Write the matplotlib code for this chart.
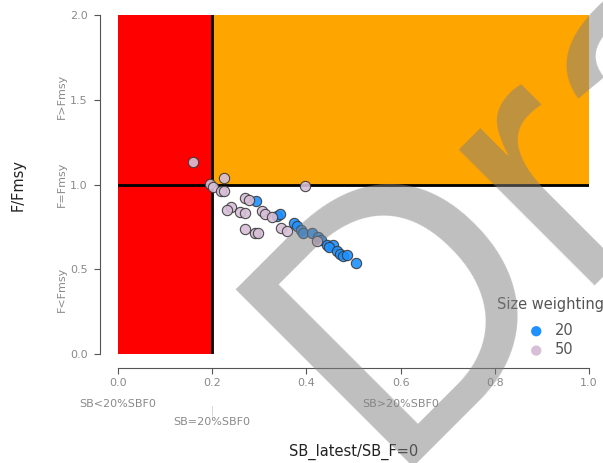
import matplotlib
matplotlib.use("Agg")
import matplotlib.pyplot as plt
from matplotlib.patches import Rectangle

# data
x_50 = [0.160, 0.224, 0.195, 0.202, 0.218, 0.225, 0.270, 0.279, 0.397, 0.239, 0.232,
        0.259, 0.270, 0.305, 0.312, 0.328, 0.270, 0.291, 0.298, 0.345, 0.359, 0.422]
y_50 = [1.134, 1.036, 1.001, 0.987, 0.963, 0.960, 0.922, 0.909, 0.989, 0.865, 0.850,
        0.838, 0.830, 0.845, 0.826, 0.810, 0.737, 0.716, 0.712, 0.741, 0.727, 0.667]
x_20 = [0.294, 0.337, 0.344, 0.374, 0.379, 0.388, 0.392, 0.411, 0.425, 0.432, 0.443,
        0.457, 0.449, 0.466, 0.471, 0.477, 0.487, 0.505]
y_20 = [0.904, 0.816, 0.824, 0.771, 0.755, 0.732, 0.712, 0.712, 0.692, 0.673, 0.643,
        0.643, 0.629, 0.608, 0.590, 0.578, 0.584, 0.539]

sb_limit = 0.2
f_limit = 1.0
x_max = 1.0
y_max = 2.0
x_ticks = [0.0, 0.2, 0.4, 0.6, 0.8, 1.0]
y_ticks = [0.0, 0.5, 1.0, 1.5, 2.0]

grey = "#8a8a8a"

fig = plt.figure(figsize=(6.03, 4.63), dpi=100)
ax = fig.add_axes([0.1957, 0.2354, 0.7811, 0.7322])

# zones
ax.add_patch(Rectangle((0, 0), sb_limit, y_max, color="red", zorder=1))
ax.add_patch(Rectangle((sb_limit, f_limit), x_max - sb_limit, y_max - f_limit, color="orange", zorder=1))
ax.plot([sb_limit, sb_limit], [0, y_max], color="black", lw=2, zorder=2)
ax.plot([0, x_max], [f_limit, f_limit], color="black", lw=2, zorder=2)

ax.scatter(x_20, y_20, s=55, color="dodgerblue", edgecolor="#3a3a3a", lw=0.8, alpha=0.9, zorder=3, label="20")
ax.scatter(x_50, y_50, s=55, color="thistle", edgecolor="#3a3a3a", lw=0.8, alpha=0.9, zorder=3, label="50")

ax.set_xlim(0, x_max)
ax.set_ylim(0, y_max)
for s in ["top", "right"]:
    ax.spines[s].set_visible(False)
# offsets in points (px * 0.72)
ax.spines["left"].set_position(("outward", 13))
ax.spines["bottom"].set_position(("outward", 10))
for s in ["left", "bottom"]:
    ax.spines[s].set_color("#555555")
ax.set_xticks(x_ticks, [f"{v:.1f}" for v in x_ticks])
ax.set_yticks(y_ticks, [f"{v:.1f}" for v in y_ticks])
ax.tick_params(colors="#555555", labelcolor=grey, labelsize=8, length=4)
ax.tick_params(axis="y", pad=5)

# zone labels
ax.text(0.0, -0.295, "SB<20%SBF0", ha="center", va="center", color=grey, fontsize=8, clip_on=False)
ax.text(0.6, -0.295, "SB>20%SBF0", ha="center", va="center", color=grey, fontsize=8, clip_on=False)
ax.text(0.2, -0.335, "|", ha="center", va="center", color="#cccccc", fontsize=7, clip_on=False)
ax.text(0.2, -0.40, "SB=20%SBF0", ha="center", va="center", color=grey, fontsize=8, clip_on=False)
ax.text(-0.119, 1.52, "F>Fmsy", rotation=90, ha="center", va="center", color=grey, fontsize=8, clip_on=False)
ax.text(-0.119, 1.0, "F=Fmsy", rotation=90, ha="center", va="center", color=grey, fontsize=8, clip_on=False)
ax.text(-0.119, 0.38, "F<Fmsy", rotation=90, ha="center", va="center", color=grey, fontsize=8, clip_on=False)

fig.text(0.586, 0.024, "SB_latest/SB_F=0", ha="center", va="center", fontsize=10.5, color="#222222")
fig.text(0.030, 0.601, "F/Fmsy", rotation=90, ha="center", va="center", fontsize=10.5, color="#222222")

# legend
fig.text(0.824, 0.343, "Size weighting", ha="left", va="center", fontsize=10.5, color="#555555")
leg = ax.legend(frameon=False, loc="upper left",
                bbox_to_anchor=(0.853, 0.318), bbox_transform=fig.transFigure,
                fontsize=10.5, handletextpad=0.3, labelspacing=0.3,
                markerscale=1.0, borderpad=0)
for t in leg.get_texts():
    t.set_color("#555555")
for h in leg.legend_handles:
    h.set_edgecolor("none")
    h.set_alpha(1)

# watermark
fig.text(0.635, -0.009, "Draft", rotation=45, rotation_mode="anchor", ha="left", va="baseline",
         fontsize=262, family="Liberation Sans", color="#808080", alpha=0.5, zorder=10)

fig.savefig("out.png", dpi=100)
